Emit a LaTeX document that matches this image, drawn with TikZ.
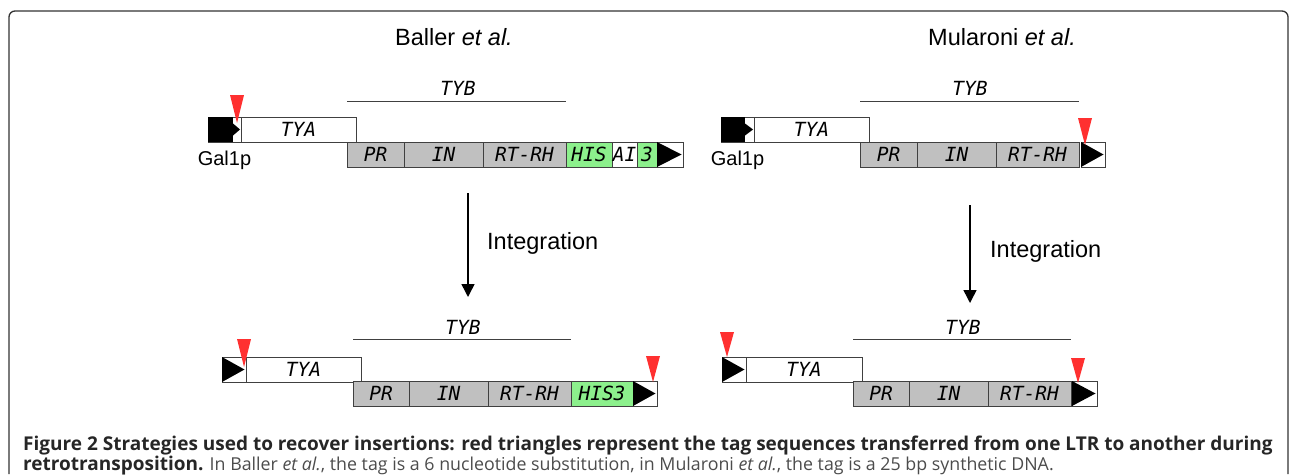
\documentclass[tikz,border=0pt]{standalone}
\usepackage{fontspec}
\setmainfont{Liberation Sans}
\newfontfamily\segfont{DejaVu Sans Mono}
\newfontfamily\capfont{Open Sans}
\usetikzlibrary{positioning, arrows.meta}
\definecolor{segGrey}{HTML}{C0C0C0}
\definecolor{hisGreen}{HTML}{8CF08C}
\definecolor{tagRed}{HTML}{FF3030}

\begin{document}
\begin{tikzpicture}[x=1pt, y=-1pt,
    seg/.style={draw=black!75, line width=0.8pt, minimum height=25pt, inner sep=0pt, outer sep=0pt, font=\segfont\itshape\fontsize{19.5}{19.5}\selectfont, anchor=north west},
    orf/.style={seg, fill=white},
    dom/.style={seg, fill=segGrey},
    his/.style={seg, fill=hisGreen},
    tagmark/.style={fill=tagRed},
    tybline/.style={draw=black!75, line width=1pt},
    tybtext/.style={font=\segfont\itshape\fontsize{19.5}{19.5}\selectfont, inner sep=0pt},
    genetext/.style={font=\fontsize{20}{20}\selectfont, inner sep=0pt},
    steptext/.style={font=\fontsize{23.5}{24}\selectfont, inner sep=0pt},
    integ/.style={line width=1.5pt, -{Triangle[length=13pt, width=13pt]}}]

    \useasboundingbox (0,0) rectangle (1290,474);
    \draw[line width=1.3pt, black!80, rounded corners=6pt] (9,474) -- (9,11) -- (1288,11) -- (1288,474);

    % titles
    \node[steptext] (titleA) at (454,37) {Baller \textit{et al.}};
    \node[steptext] (titleB) at (1002,37) {Mularoni \textit{et al.}};

% Baller, before
\node[orf, minimum width=33pt] (galA) at (208,117) {};
\fill (galA.north west) rectangle ([xshift=25pt]galA.south west);
\fill ([xshift=25pt, yshift=6pt]galA.west) -- ([xshift=25pt, yshift=-6pt]galA.west) -- ([xshift=32pt]galA.west) -- cycle;
\node[genetext, below=9pt of galA] (galpA) {Gal1p};
\node[orf, minimum width=115pt] (tyaA) at (241,117) {TYA};
\node[dom, minimum width=57pt] (prA) at (347,142) {PR};
\node[dom, minimum width=79pt, right=0pt of prA] (inA) {IN};
\node[dom, minimum width=83pt, right=0pt of inA] (rtA) {RT-RH};
\node[his, minimum width=46pt, right=0pt of rtA] (hisA) {HIS};
\node[orf, minimum width=25pt, right=0pt of hisA] (aiA) {AI};
\node[his, minimum width=20pt, right=0pt of aiA] (thrA) {3};
\node[orf, minimum width=26pt, right=0pt of thrA] (ltrA) {};
\fill (ltrA.north west) -- (ltrA.south west) -- ([xshift=-1.5pt]ltrA.east) -- cycle;
\draw[tybline] (prA.north west |- 0,101) -- (rtA.north east |- 0,101);
\node[tybtext] (tybA) at (458,88) {TYB};
\fill[tagmark] (230,95) -- (244,95) -- (237,123) -- cycle;

% Mularoni, before
\node[orf, minimum width=33pt] (galB) at (721,117) {};
\fill (galB.north west) rectangle ([xshift=24pt]galB.south west);
\fill ([xshift=24pt, yshift=6pt]galB.west) -- ([xshift=24pt, yshift=-6pt]galB.west) -- ([xshift=32pt]galB.west) -- cycle;
\node[genetext, below=9pt of galB] (galpB) {Gal1p};
\node[orf, minimum width=115pt] (tyaB) at (754,117) {TYA};
\node[dom, minimum width=57pt] (prB) at (860,142) {PR};
\node[dom, minimum width=79pt, right=0pt of prB] (inB) {IN};
\node[dom, minimum width=83pt, right=0pt of inB] (rtB) {RT-RH};
\node[orf, minimum width=24pt, right=2pt of rtB] (ltrB) {};
\fill (ltrB.north west) -- (ltrB.south west) -- ([xshift=-1.5pt]ltrB.east) -- cycle;
\draw[tybline] (prB.north west |- 0,101) -- (rtB.north east |- 0,101);
\node[tybtext] (tybB) at (970,88) {TYB};
\fill[tagmark] (1078,118) -- (1092,118) -- (1085,145) -- cycle;

% integration arrows
\coordinate (arrA) at (468,193);
\coordinate (arrAend) at (468,297);
\draw[integ] (arrA) -- (arrAend);
\node[steptext, anchor=west] (intA) at (487,243) {Integration};
\coordinate (arrB) at (970,205);
\coordinate (arrBend) at (970,303);
\draw[integ] (arrB) -- (arrBend);
\node[steptext, anchor=west] (intB) at (990,251) {Integration};

% Baller, after
\node[orf, minimum width=24pt] (ltrC) at (222,357) {};
\fill (ltrC.north west) -- (ltrC.south west) -- ([xshift=-1.5pt]ltrC.east) -- cycle;
\node[orf, minimum width=115pt, right=0pt of ltrC] (tyaC) {TYA};
\node[dom, minimum width=56pt] (prC) at (353,381) {PR};
\node[dom, minimum width=79pt, right=0pt of prC] (inC) {IN};
\node[dom, minimum width=83pt, right=0pt of inC] (rtC) {RT-RH};
\node[his, minimum width=62pt, right=0pt of rtC] (hisC) {HIS3};
\node[orf, minimum width=24pt, right=0pt of hisC] (ltrD) {};
\fill (ltrD.north west) -- (ltrD.south west) -- ([xshift=-1.5pt]ltrD.east) -- cycle;
\draw[tybline] (prC.north west |- 0,339) -- (rtC.north east |- 0,339);
\node[tybtext] (tybC) at (463,327) {TYB};
\fill[tagmark] (237,339) -- (251,339) -- (244,367) -- cycle;
\fill[tagmark] (646,356) -- (660,356) -- (653,382) -- cycle;

% Mularoni, after
\node[orf, minimum width=24pt] (ltrE) at (722,357) {};
\fill (ltrE.north west) -- (ltrE.south west) -- ([xshift=-1.5pt]ltrE.east) -- cycle;
\node[orf, minimum width=116pt, right=0pt of ltrE] (tyaE) {TYA};
\node[dom, minimum width=56pt] (prE) at (853,381) {PR};
\node[dom, minimum width=79pt, right=0pt of prE] (inE) {IN};
\node[dom, minimum width=83pt, right=0pt of inE] (rtE) {RT-RH};
\node[orf, minimum width=25pt, right=1pt of rtE] (ltrF) {};
\fill (ltrF.north west) -- (ltrF.south west) -- ([xshift=-1.5pt]ltrF.east) -- cycle;
\draw[tybline] (prE.north west |- 0,339) -- (rtE.north east |- 0,339);
\node[tybtext] (tybD) at (963,327) {TYB};
\fill[tagmark] (720,332) -- (734,332) -- (727,357) -- cycle;
\fill[tagmark] (1071,358) -- (1085,358) -- (1078,383) -- cycle;

% caption
\node[anchor=base west, inner sep=0pt, text=black!85, font=\capfont\bfseries\fontsize{19}{22}\selectfont] (capA) at (23,450) {Figure 2 Strategies used to recover insertions: red triangles represent the tag sequences transferred from one LTR to another during};
\node[anchor=base west, inner sep=0pt, text=black!70, font=\capfont\fontsize{17.8}{22}\selectfont] (capB) at (23,470) {{\color{black!85}\bfseries\fontsize{19}{22}\selectfont retrotransposition.} In Baller \textit{et al.}, the tag is a 6 nucleotide substitution, in Mularoni \textit{et al.}, the tag is a 25 bp synthetic DNA.};

\end{tikzpicture}
\end{document}
